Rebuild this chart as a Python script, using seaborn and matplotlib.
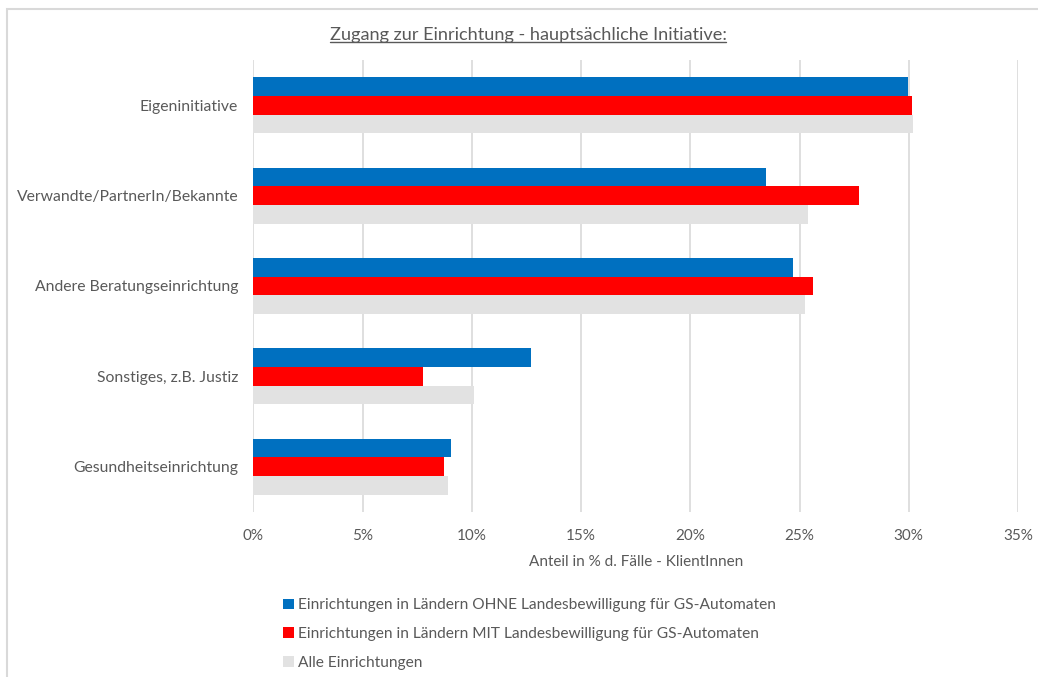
import numpy as np
import pandas as pd
import seaborn as sns
import matplotlib
matplotlib.use("Agg")
import matplotlib.pyplot as plt
from matplotlib.ticker import FuncFormatter
from matplotlib.patches import Rectangle

#%% data
categories = ["Eigeninitiative", "Verwandte/PartnerIn/Bekannte", "Andere Beratungseinrichtung",
              "Sonstiges, z.B. Justiz", "Gesundheitseinrichtung"]
ohne = [29.95, 23.45, 24.7, 12.7, 9.05]
mit = [30.15, 27.7, 25.6, 7.75, 8.7]
alle = [30.2, 25.4, 25.25, 10.1, 8.9]
series = ["Einrichtungen in Ländern OHNE Landesbewilligung für GS-Automaten",
          "Einrichtungen in Ländern MIT Landesbewilligung für GS-Automaten",
          "Alle Einrichtungen"]
colors = ["#0070C0", "#FF0000", "#E2E2E2"]

df = pd.DataFrame(dict(category=categories * 3,
                       value=ohne + mit + alle,
                       group=[series[0]] * 5 + [series[1]] * 5 + [series[2]] * 5))

#%% plot
sns.set_style("white")
plt.rcParams["font.family"] = ["Lato", "DejaVu Sans"]
txt_color = "#595959"

fig = plt.figure(figsize=(10.38, 6.77), dpi=100)
ax = fig.add_axes([0.2442, 0.2437, 0.9807 - 0.2442, 0.9114 - 0.2437])

sns.barplot(data=df, y="category", x="value", hue="group", hue_order=series,
            palette=colors, width=0.62, gap=0, saturation=1, linewidth=0,
            orient="h", ax=ax, legend=True)

ax.set_xlim(0, 35)
ax.set_xticks(np.arange(0, 36, 5))
ax.xaxis.set_major_formatter(FuncFormatter(lambda v, p: f"{v:.0f}%"))
ax.grid(axis="x", color="#D9D9D9", linewidth=1.2)
ax.set_axisbelow(True)
for s in ax.spines.values():
    s.set_visible(False)
ax.tick_params(axis="both", length=0, labelsize=11, colors=txt_color, pad=12)
ax.tick_params(axis="y", pad=11, labelsize=11.3)
ax.set_ylabel("")
ax.set_xlabel("Anteil in % d. Fälle - KlientInnen", fontsize=11, color=txt_color, labelpad=9)

# legend below the plot
handles, labels = ax.get_legend_handles_labels()
ax.get_legend().remove()
fig.legend(handles, labels, loc="upper left", bbox_to_anchor=(0.2726, 0.116),
           frameon=False, fontsize=11.2, handlelength=0.7, handleheight=0.7,
           handletextpad=0.25, labelspacing=0.95, labelcolor=txt_color,
           borderaxespad=0, borderpad=0)

# title with underline
title = fig.text(0.5087, 0.948, "Zugang zur Einrichtung - hauptsächliche Initiative:",
                 ha="center", va="center", fontsize=13.1, color=txt_color)
fig.canvas.draw()
bb = title.get_window_extent().transformed(fig.transFigure.inverted())
fig.add_artist(plt.Line2D([bb.x0, bb.x1], [bb.y0 + 0.002, bb.y0 + 0.002],
                          color=txt_color, linewidth=1, transform=fig.transFigure))

# outer frame
fig.add_artist(Rectangle((6.5 / 1038, -0.05), 1.1, 1 - 8.5 / 677 + 0.05,
                         transform=fig.transFigure, fill=False,
                         edgecolor="#D9D9D9", linewidth=1.5))

fig.savefig("out.png", dpi=100)
